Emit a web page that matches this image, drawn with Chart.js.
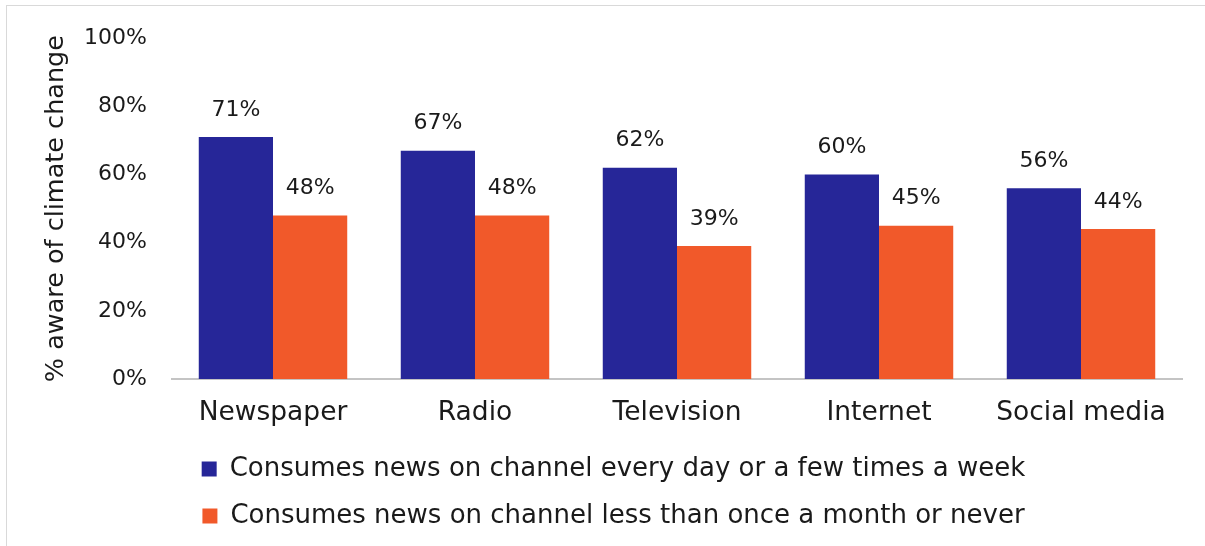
<!DOCTYPE html>
<html>
<head>
<meta charset="utf-8">
<script src="https://cdn.jsdelivr.net/npm/chart.js@4/dist/chart.umd.min.js"></script>
<style>
  html, body { margin: 0; padding: 0; background: #fff; }
  #wrap { position: relative; width: 1205px; height: 546px; overflow: hidden; }
  #frame { position: absolute; left: 6px; top: 5px; width: 1198px; height: 560px; border: 1px solid #d9d9d9; border-width: 1px 0 0 1px; }
  canvas { position: absolute; left: 0; top: 0; }
</style>
</head>
<body>
<div id="wrap">
  <div id="frame"></div>
  <canvas id="chart" width="1205" height="546"></canvas>
</div>
<script>
const channels = ['Newspaper', 'Radio', 'Television', 'Internet', 'Social media']
const frequentUsers = [71, 67, 62, 60, 56]
const rareUsers = [48, 48, 39, 45, 44]
const seriesNames = [
  'Consumes news on channel every day or a few times a week',
  'Consumes news on channel less than once a month or never'
]
const yTicks = [0, 20, 40, 60, 80, 100]

const FONT = "'DejaVu Sans', sans-serif"
const TEXT = '#1a1a1a'

// writes the value above every bar
const barLabels = {
  id: 'barLabels',
  afterDatasetsDraw(chart) {
    const ctx = chart.ctx
    ctx.save()
    ctx.font = `22px ${FONT}`
    ctx.fillStyle = TEXT
    ctx.textAlign = 'center'
    ctx.textBaseline = 'bottom'
    chart.data.datasets.forEach((ds, i) => {
      chart.getDatasetMeta(i).data.forEach((bar, j) => {
        ctx.fillText(ds.data[j] + '%', bar.x, bar.y - 16)
      })
    })
    ctx.restore()
  }
}

new Chart(document.getElementById('chart'), {
  type: 'bar',
  data: {
    labels: channels,
    datasets: [
      { label: seriesNames[0], data: frequentUsers, backgroundColor: '#262698' },
      { label: seriesNames[1], data: rareUsers, backgroundColor: '#f1592a' }
    ]
  },
  options: {
    responsive: false,
    animation: false,
    devicePixelRatio: 1,
    layout: { padding: { left: 45, right: 23, top: 34, bottom: 7 } },
    datasets: { bar: { categoryPercentage: 0.735, barPercentage: 1 } },
    scales: {
      x: {
        grid: { display: false },
        border: { display: true, color: '#c4c4c4', width: 2 },
        ticks: { color: TEXT, font: { family: FONT, size: 26.5 }, padding: 10 },
        afterFit(scale) { scale.height = 56 }
      },
      y: {
        min: 0,
        max: 100,
        afterBuildTicks(scale) { scale.ticks = yTicks.map(v => ({ value: v })) },
        grid: { display: false, drawTicks: false },
        border: { display: false },
        ticks: {
          color: TEXT,
          font: { family: FONT, size: 22 },
          padding: 25,
          callback: v => v + '%'
        },
        title: {
          display: true,
          text: '% aware of climate change',
          color: TEXT,
          font: { family: FONT, size: 25.5 },
          padding: { top: -4, bottom: 0 }
        },
        afterFit(scale) { scale.width = 127 }
      }
    },
    plugins: {
      legend: {
        position: 'bottom',
        labels: {
          color: TEXT,
          font: { family: FONT, size: 26 },
          boxWidth: 15,
          boxHeight: 15,
          padding: 21
        }
      },
      tooltip: { enabled: false }
    }
  },
  plugins: [barLabels]
})
</script>
</body>
</html>
